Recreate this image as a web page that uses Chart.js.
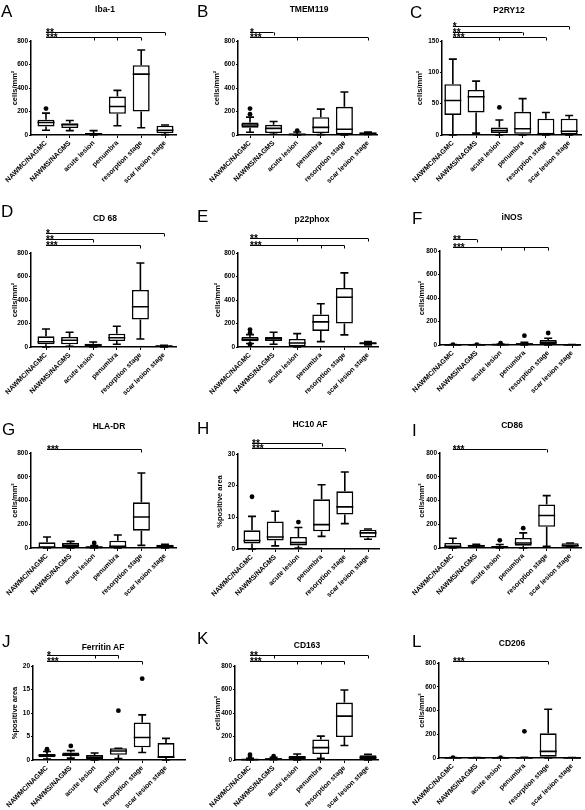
<!DOCTYPE html>
<html><head><meta charset="utf-8">
<script src="https://cdn.jsdelivr.net/npm/chart.js@4.4.1/dist/chart.umd.min.js"></script>
<style>
html,body{margin:0;padding:0;background:#fff;}
#wrap{position:relative;width:585px;height:810px;overflow:hidden;font-family:'Liberation Sans',Arial,sans-serif;color:#000;}
canvas{position:absolute;}
.letter{position:absolute;font-size:17px;line-height:17px;}
.ptitle{position:absolute;font-size:8.5px;font-weight:bold;line-height:10px;white-space:nowrap;transform:translate(-50%,-50%);}
</style></head><body><div id="wrap"></div>
<script>
// ---------- DATA ----------
const categories = ['NAWMC/NAGMC','NAWMS/NAGMS','acute lesion','penumbra','resorption stage','scar lesion stage'];
const cellsLabel = 'cells/mm\u00B2';
const areaLabel = '%positive area';
// box summaries per category: [min, q1, median, q3, max]
const iba1Box = [[40,73,107,130,186],[37,59,87,101,124],[0,6,10,17,37],[79,180,242,327,380],[62,200,518,594,724],[3,17,40,79,85]];
const iba1Out = [[0,225]];
const iba1Sig = [{label:'**',to:5,ticks:[]},{label:'***',to:4,ticks:[2,3]}];

const tmemBox = [[23,62,85,107,152],[6,17,56,87,115],[0,1,5,11,25],[3,17,65,152,220],[0,5,49,240,366],[4,6,14,22,25]];
const tmemOut = [[0,177],[0,225],[2,37]];
const tmemSig = [{label:'*',to:1,ticks:[]},{label:'***',to:5,ticks:[2]}];

const p2ryBox = [[0,32,55,81,121],[3,36,61,72,86],[0,3,7,12,24],[0,2,10,37,58],[0,1,2,26,36],[0,1,6,26,31]];
const p2ryOut = [[2,44]];
const p2rySig = [{label:'*',to:5,ticks:[]},{label:'**',to:3,ticks:[]},{label:'***',to:4,ticks:[2]}];

const cd68Box = [[0,23,45,91,153],[6,23,57,85,125],[0,6,17,28,43],[23,51,79,113,176],[68,233,343,485,715],[0,3,8,11,14]];
const cd68Out = [];
const cd68Sig = [{label:'*',to:5,ticks:[]},{label:'**',to:2,ticks:[]},{label:'***',to:4,ticks:[]}];

const p22Box = [[30,50,65,85,105],[23,52,70,85,126],[0,6,34,68,114],[46,137,214,277,368],[103,200,423,503,631],[17,25,31,40,46]];
const p22Out = [[0,22],[0,120],[0,148]];
const p22Sig = [{label:'**',to:5,ticks:[2]},{label:'***',to:4,ticks:[3]}];

const inosBox = [[0,0,1,2,3],[0,0,1,2,3],[0,1,3,6,9],[0,3,8,15,22],[0,5,20,42,58],[0,0,1,2,3]];
const inosOut = [[0,2],[1,3],[2,15],[3,79],[4,102]];
const inosSig = [{label:'**',to:1,ticks:[]},{label:'***',to:4,ticks:[2,3]}];

const hlaBox = [[0,2,6,48,93],[0,8,22,42,56],[0,2,5,14,20],[0,6,14,62,110],[22,146,261,385,632],[0,8,16,28,31]];
const hlaOut = [[2,42]];
const hlaSig = [{label:'***',to:4,ticks:[]}];

const hc10Box = [[0,1.7,2.7,5.9,10.3],[1.0,2.7,3.8,8.7,11.9],[0.3,1.1,2.0,3.8,6.8],[4.0,5.6,7.7,15.7,20.3],[8.0,10.9,13.3,18.2,24.3],[3.1,3.6,5.1,6.1,6.3]];
const hc10Out = [[0,16.5],[2,8.5]];
const hc10Sig = [{label:'**',to:3,ticks:[]},{label:'***',to:4,ticks:[]}];

const cd86Box = [[0,2,14,42,82],[6,10,17,28,31],[0,2,6,17,30],[0,20,42,85,127],[14,178,274,367,441],[6,10,20,40,42]];
const cd86Out = [[2,65],[3,167]];
const cd86Sig = [{label:'***',to:4,ticks:[]}];

const ferrBox = [[0.2,0.6,1.0,1.3,1.8],[0.4,0.8,1.1,1.6,2.0],[0,0.14,0.56,1.05,1.5],[0.3,1.1,1.9,2.5,2.5],[1.6,2.7,4.8,8.0,9.6],[0,0.5,0.6,3.6,4.6]];
const ferrOut = [[0,2.0],[0,2.3],[1,3.0],[3,10.5],[4,17.3]];
const ferrSig = [{label:'*',to:3,ticks:[2]},{label:'***',to:4,ticks:[]}];

const cd163Box = [[0,1,3,8,15],[2,5,8,14,22],[0,6,20,34,51],[14,51,105,175,203],[124,195,373,489,596],[0,6,20,40,48]];
const cd163Out = [[0,25],[0,45],[1,32]];
const cd163Sig = [{label:'**',to:5,ticks:[1]},{label:'***',to:4,ticks:[2,3]}];

const cd206Box = [[0,0,1,2,3],[0,0,1,2,3],[0,0,1,2,3],[0,0,1,3,5],[0,11,56,208,411],[0,0,1,2,3]];
const cd206Out = [[0,2],[2,2],[3,225]];
const cd206Sig = [{label:'***',to:4,ticks:[]}];

const panels = [
  {id:'A', title:'Iba-1',      box:iba1Box,  out:iba1Out,  sig:iba1Sig,  yMax:800, yStep:200, yTitle:cellsLabel},
  {id:'B', title:'TMEM119',    box:tmemBox,  out:tmemOut,  sig:tmemSig,  yMax:800, yStep:200, yTitle:cellsLabel},
  {id:'C', title:'P2RY12',     box:p2ryBox,  out:p2ryOut,  sig:p2rySig,  yMax:150, yStep:50,  yTitle:cellsLabel},
  {id:'D', title:'CD 68',      box:cd68Box,  out:cd68Out,  sig:cd68Sig,  yMax:800, yStep:200, yTitle:cellsLabel},
  {id:'E', title:'p22phox',    box:p22Box,   out:p22Out,   sig:p22Sig,   yMax:800, yStep:200, yTitle:cellsLabel},
  {id:'F', title:'iNOS',       box:inosBox,  out:inosOut,  sig:inosSig,  yMax:800, yStep:200, yTitle:cellsLabel},
  {id:'G', title:'HLA-DR',     box:hlaBox,   out:hlaOut,   sig:hlaSig,   yMax:800, yStep:200, yTitle:cellsLabel},
  {id:'H', title:'HC10 AF',    box:hc10Box,  out:hc10Out,  sig:hc10Sig,  yMax:30,  yStep:10,  yTitle:areaLabel},
  {id:'I', title:'CD86',       box:cd86Box,  out:cd86Out,  sig:cd86Sig,  yMax:800, yStep:200, yTitle:cellsLabel},
  {id:'J', title:'Ferritin AF',box:ferrBox,  out:ferrOut,  sig:ferrSig,  yMax:20,  yStep:5,   yTitle:areaLabel},
  {id:'K', title:'CD163',      box:cd163Box, out:cd163Out, sig:cd163Sig, yMax:800, yStep:200, yTitle:cellsLabel},
  {id:'L', title:'CD206',      box:cd206Box, out:cd206Out, sig:cd206Sig, yMax:800, yStep:200, yTitle:cellsLabel}
];

// ---------- LAYOUT (pixels) ----------
const layoutSpec = {
  A:{left:0,  top:0,  w:195,h:200,axisX:31,first:46,last:165,right:176,pt:41,pb:135,base:4,  gap:5,  lx:1, ly:5, tx:105,ty:9, ytx:15},
  B:{left:195,top:0,  w:195,h:200,axisX:43,first:55,last:173,right:182,pt:41,pb:135,base:4,  gap:5,  lx:2, ly:5, tx:114,ty:9, ytx:22},
  C:{left:390,top:0,  w:195,h:200,axisX:52,first:63,last:181,right:193,pt:41,pb:135,base:4,  gap:5.5,lx:20,ly:6, tx:119,ty:10,ytx:30},
  D:{left:0,  top:200,w:195,h:200,axisX:31,first:46,last:164,right:176,pt:53,pb:147,base:8,  gap:6,  lx:1, ly:5, tx:105,ty:18,ytx:15},
  E:{left:195,top:200,w:195,h:200,axisX:43,first:55,last:173,right:183,pt:53,pb:147,base:8,  gap:7,  lx:2, ly:10,tx:117,ty:19,ytx:23},
  F:{left:390,top:200,w:195,h:200,axisX:50,first:63,last:182,right:190,pt:51,pb:145,base:4,  gap:8,  lx:22,ly:12,tx:122,ty:17,ytx:32},
  G:{left:0,  top:400,w:195,h:200,axisX:31,first:47,last:165,right:176,pt:53,pb:148,base:4,  gap:5,  lx:2, ly:23,tx:109,ty:26,ytx:15},
  H:{left:195,top:400,w:195,h:200,axisX:43,first:57,last:173,right:184,pt:54,pb:149,base:6,  gap:5,  lx:2, ly:22,tx:115,ty:24,ytx:25},
  I:{left:390,top:400,w:195,h:200,axisX:50,first:63,last:182,right:193,pt:53,pb:148,base:4,  gap:5,  lx:22,ly:24,tx:122,ty:25,ytx:32},
  J:{left:0,  top:600,w:195,h:210,axisX:33,first:47,last:166,right:185,pt:66,pb:160,base:5,  gap:6,  lx:2, ly:35,tx:103,ty:47,ytx:15},
  K:{left:195,top:600,w:195,h:210,axisX:40,first:55,last:173,right:183,pt:66,pb:160,base:5,  gap:6,  lx:2, ly:32,tx:112,ty:45,ytx:23},
  L:{left:390,top:600,w:195,h:210,axisX:49,first:63,last:182,right:190,pt:63,pb:158,base:2.5,gap:5,  lx:22,ly:35,tx:122,ty:43,ytx:32}
};

const FONT = "'Liberation Sans', Arial, sans-serif";
Chart.defaults.font.family = FONT;
Chart.defaults.color = '#000';

const boxWhisker = {
  id:'boxWhisker',
  afterDatasetsDraw(chart, args, o) {
    const {ctx, chartArea} = chart;
    const x = chart.scales.x, y = chart.scales.y;
    ctx.save();
    ctx.strokeStyle = '#000';
    ctx.lineWidth = 1.6;
    const hb = o.boxWidth/2, hc = o.capWidth/2;
    o.box.forEach((s,i) => {
      const cx = x.getPixelForValue(i);
      const p = s.map(v => y.getPixelForValue(v));
      ctx.beginPath();
      ctx.moveTo(cx, p[3]); ctx.lineTo(cx, p[4]);
      ctx.moveTo(cx-hc, p[4]); ctx.lineTo(cx+hc, p[4]);
      ctx.moveTo(cx, p[1]); ctx.lineTo(cx, p[0]);
      ctx.moveTo(cx-hc, p[0]); ctx.lineTo(cx+hc, p[0]);
      ctx.moveTo(cx-hb, p[2]); ctx.lineTo(cx+hb, p[2]);
      ctx.stroke();
    });
    // significance brackets
    ctx.lineWidth = 1;
    ctx.fillStyle = '#000';
    ctx.font = "bold 10px " + FONT;
    ctx.textAlign = 'left';
    ctx.textBaseline = 'alphabetic';
    const n = o.sig.length;
    o.sig.forEach((b,k) => {
      const ly = Math.round(chartArea.top - o.base - (n-1-k)*o.gap) + 0.5;
      const x0 = x.getPixelForValue(0), x1 = x.getPixelForValue(b.to);
      ctx.beginPath();
      ctx.moveTo(x0, ly); ctx.lineTo(x1, ly);
      b.ticks.concat([b.to]).forEach(t => {
        const tx = Math.round(x.getPixelForValue(t)) + 0.5;
        ctx.moveTo(tx, ly); ctx.lineTo(tx, ly+3);
      });
      ctx.stroke();
      ctx.fillText(b.label, x0, ly + 3.5);
    });
    ctx.restore();
  }
};

const wrap = document.getElementById('wrap');

panels.forEach(p => {
  const L = layoutSpec[p.id];
  const cv = document.createElement('canvas');
  cv.width = L.w; cv.height = L.h;
  cv.style.left = L.left + 'px'; cv.style.top = L.top + 'px';
  cv.style.width = L.w + 'px'; cv.style.height = L.h + 'px';
  wrap.appendChild(cv);

  const letter = document.createElement('div');
  letter.className = 'letter';
  letter.textContent = p.id;
  letter.style.left = (L.left + L.lx) + 'px';
  letter.style.top = (L.top + L.ly - 2) + 'px';
  wrap.appendChild(letter);

  const title = document.createElement('div');
  title.className = 'ptitle';
  title.textContent = p.title;
  title.style.left = (L.left + L.tx) + 'px';
  title.style.top = (L.top + L.ty) + 'px';
  wrap.appendChild(title);

  const nCat = categories.length;
  const unit = (L.last - L.first) / (nCat - 1);
  const xMin = -(L.first - L.axisX) / unit;
  const xMax = (nCat - 1) + (L.right - L.last) / unit;
  const padLeft = L.ytx - 4.5;

  new Chart(cv, {
    type: 'bar',
    data: {
      datasets: [
        {
          type: 'bar',
          data: p.box.map((s,i) => ({x:i, y:[s[1], s[3]]})),
          backgroundColor: '#fff',
          borderColor: '#000',
          borderWidth: 1.6,
          borderSkipped: false,
          barThickness: 17,
          inflateAmount: 0
        },
        {
          type: 'line',
          data: p.out.map(o => ({x:o[0], y:o[1]})),
          showLine: false,
          pointRadius: 2.4,
          pointBackgroundColor: '#000',
          pointBorderColor: '#000',
          pointBorderWidth: 0
        }
      ]
    },
    options: {
      responsive: false,
      animation: false,
      devicePixelRatio: 1,
      events: [],
      layout: { padding: { left: padLeft, right: L.w - L.right, top: L.pt, bottom: 0 } },
      plugins: {
        legend: { display: false },
        tooltip: { enabled: false },
        boxWhisker: { box: p.box, sig: p.sig, base: L.base, gap: L.gap, boxWidth: 17, capWidth: 8 }
      },
      scales: {
        x: {
          type: 'linear',
          min: xMin, max: xMax,
          offset: false,
          afterBuildTicks: s => { s.ticks = categories.map((c,i) => ({value:i})); },
          afterFit: s => { s.height = L.h - L.pb; },
          ticks: {
            autoSkip: false, minRotation: 45, maxRotation: 45, padding: 1,
            color: '#000', font: { size: 7, weight: 'bold' },
            callback: v => categories[v]
          },
          grid: { display: true, offset: false, drawOnChartArea: false, drawTicks: true, tickLength: 3, color: '#000', lineWidth: 1 },
          border: { display: true, color: '#000', width: 1.5 }
        },
        y: {
          type: 'linear',
          min: 0, max: p.yMax,
          afterFit: s => { s.width = L.axisX - padLeft; },
          ticks: { stepSize: p.yStep, padding: 1, color: '#000', font: { size: 6.5, weight: 'bold' } },
          grid: { display: true, drawOnChartArea: false, drawTicks: true, tickLength: 2, color: '#000', lineWidth: 1 },
          border: { display: true, color: '#000', width: 1.5 },
          title: { display: true, text: p.yTitle, color: '#000', padding: 0, font: { size: 7.5, weight: 'bold' } }
        }
      }
    },
    plugins: [boxWhisker]
  });
});
</script></body></html>
